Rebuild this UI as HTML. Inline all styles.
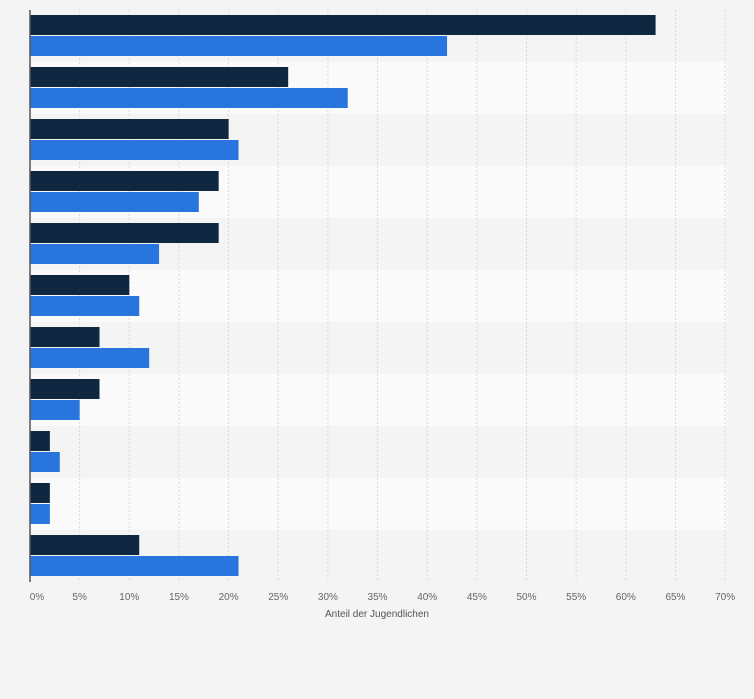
<!DOCTYPE html>
<html><head><meta charset="utf-8"><style>
body{margin:0;background:#f4f4f4;font-family:"Liberation Sans",sans-serif;}
svg{display:block}
</style></head><body>
<svg id="c" width="754" height="699"></svg>
<script>
const categories=["A","B","C","D","E","F","G","H","I","J","K"];
const series1=[63,26,20,19,19,10,7,7,2,2,11];
const series2=[42,32,21,17,13,11,12,5,3,2,21];
const ticks=[0,5,10,15,20,25,30,35,40,45,50,55,60,65,70];
const NS="http://www.w3.org/2000/svg";
const svg=document.getElementById('c');
const x0=30,pxPer=9.93,top0=10,rowH=52;
const x=v=>x0+v*pxPer;
function mk(t,a){const e=document.createElementNS(NS,t);for(const k in a)e.setAttribute(k,a[k]);svg.appendChild(e);return e;}
categories.forEach((c,i)=>{
  const b=mk('rect',{x:x0,y:top0+i*rowH,width:x(70)-x0+2,height:rowH,fill:i%2?'#fafafa':'#f4f4f4'});
  
  
});
ticks.forEach(t=>{
  if(t>0){const g=mk('line',{x1:x(t),x2:x(t),y1:top0,y2:top0+rowH*categories.length,stroke:'#d8d8d8','stroke-dasharray':'2,2'});
  
  }
  const l=mk('text',{x:x(t)+(t==0?7:0),y:600,'text-anchor':'middle','font-size':'10',fill:'#666'});
  l.textContent=t+'%';
  
  
});
categories.forEach((c,i)=>{
  const y=top0+i*rowH;
  const r1=mk('rect',{x:x0,y:y+5,width:x(series1[i])-x0,height:20,fill:'#0f2740'});
  
  
  const r2=mk('rect',{x:x0,y:y+26,width:x(series2[i])-x0,height:20,fill:'#2876dd'});
  
  
});
const ax=mk('line',{x1:x0,x2:x0,y1:top0,y2:top0+rowH*categories.length,stroke:'#555','stroke-width':1.5});


const tt=mk('text',{x:377,y:617,'text-anchor':'middle','font-size':'10',fill:'#555'});
tt.textContent='Anteil der Jugendlichen';


</script>
</body></html>
